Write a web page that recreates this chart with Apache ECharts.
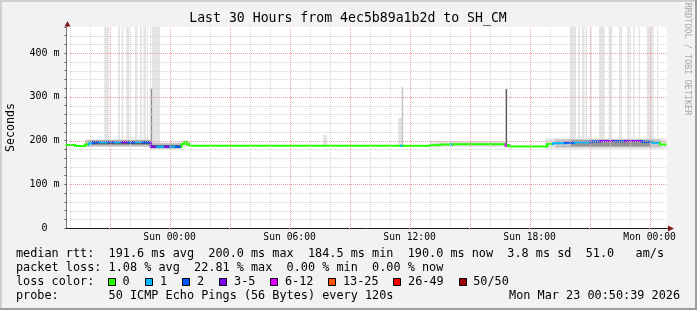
<!DOCTYPE html>
<html><head><meta charset="utf-8">
<script src="https://cdn.jsdelivr.net/npm/echarts@6/dist/echarts.min.js"></script>
<style>html,body{margin:0;padding:0;background:#f2f2f2}#c{width:697px;height:310px}</style>
</head><body><div id="c"></div>
<script>
// ---------- data (time in hours relative to Sun 00:00) ----------
const xMin = -5.156, xMax = 24.844;
const xLabelHours = [0, 6, 12, 18, 24];
const xLabels = ['Sun 00:00', 'Sun 06:00', 'Sun 12:00', 'Sun 18:00', 'Mon 00:00'];
const xMajorGrid = [-3, 0, 3, 6, 9, 12, 15, 18, 21, 24];
const xMinorGrid = [-5, -4, -2, -1, 1, 2, 4, 5, 7, 8, 10, 11, 13, 14, 16, 17, 19, 20, 22, 23];
const yMin = 0, yMax = 460;
const yLabelValues = [0, 100, 200, 300, 400];
const yLabels = ['0  ', '100 m', '200 m', '300 m', '400 m'];
const yMajorGrid = [100, 200, 300, 400];
const yMinorGrid = [20, 40, 60, 80, 120, 140, 160, 180, 220, 240, 260, 280, 320, 340, 360, 380, 420, 440];

// median rtt (ms) per segment, segment i spans medianBreaks[i]..medianBreaks[i+1]
const medianBreaks = [-5.156, -4.725, -4.225, -4.025, -3.825, -3.475, -3.075, -2.725, -2.375, -2.075,
  -1.675, -1.325, -0.95, -0.625, -0.225, 0.025, 0.325, 0.6, 0.725, 0.875, 1.025, 11.575, 11.675,
  13.025, 13.525, 14.075, 14.175, 16.8, 16.9, 17.025, 18.875, 19.175, 19.775, 20.275, 21.025,
  21.525, 22.275, 22.775, 23.625, 24.125, 24.525, 24.844];
const medianValues = [190, 187.5, 191, 194, 196, 196, 196.5, 196, 196.5, 196,
  196.5, 196, 186, 186, 186, 186, 185.5, 192, 197, 191, 188, 188,
  188, 189.5, 191, 191, 191.5, 188, 189, 186.5, 192, 194, 195, 196, 198,
  199, 198.5, 199, 197, 195, 191];
const medianLoss = [0, 0, 0, 1, 2, 1, 2, 1, 3, 2,
  1, 2, 3, 1, 3, 1, 2, 0, 0, 0, 0, 1,
  0, 0, 0, 1, 0, 4, 0, 0, 0, 1, 2, 1, 2,
  3, 2, 3, 2, 1, 0];

// smoke bands (ms), shade = density level 0 (sparse) .. 3 (dense)
const smokeStart = [0.6, 11.425, 13.025, 7.675, 18.775, -4.225, -0.95, 11.6, 14.275, 19.275, -0.95, 20.025, -4.025, -0.95, 16.8];
const smokeEnd   = [1.025, 11.6, 16.8, 7.875, 24.844, -0.95, 0.6, 11.675, 16.525, 24.525, -0.875, 24.025, -0.95, 0.6, 16.875];
const smokeLow   = [186, 186, 186, 186, 182, 186, 181, 186, 189, 184, 190, 187, 191, 183, 186];
const smokeHigh  = [199, 252, 199, 213, 205, 202, 195, 322, 194, 203, 320, 201, 199.5, 190, 318];
const smokeShade = [0, 0, 0, 0, 0, 1, 1, 1, 1, 1, 2, 2, 3, 3, 3];

// intervals whose slowest pings go past the top of the chart
const spikeStart = [-3.275, -2.575, -2.39, -2.175, -1.725, -1.475, -1.31, -1.125, -0.89,
  20.025, 20.425, 20.625, 20.8, 21.025, 21.475, 21.95, 22.475, 22.875, 23.175, 23.45, 23.85, 24.375];
const spikeEnd = [-3.025, -2.475, -2.31, -2.01, -1.61, -1.39, -1.175, -1.075, -0.475,
  20.325, 20.525, 20.75, 20.875, 21.1, 21.75, 22.125, 22.625, 23.0, 23.25, 23.525, 24.2, 24.425];
const spikeLow = 192;

const lossLabels = ['0', '1', '2', '3-5', '6-12', '13-25', '26-49', '50/50'];
const lossColors = ['#26ff00', '#00b8ff', '#0059ff', '#7e00ff', '#dd00ff', '#ff5500', '#ff0000', '#a10000'];

const titleText = 'Last 30 Hours from 4ec5b89a1b2d to SH_CM';
const legendLine1 = 'median rtt:  191.6 ms avg  200.0 ms max  184.5 ms min  190.0 ms now  3.8 ms sd  51.0   am/s';
const legendLine2 = 'packet loss: 1.08 % avg  22.81 % max  0.00 % min  0.00 % now';
const legendLine3 = 'loss color:';
const legendLine4 = 'probe:       50 ICMP Echo Pings (56 Bytes) every 120s';
const stampText = 'Mon Mar 23 00:50:39 2026';

// ---------- styles / layout ----------
const MONO = '"DejaVu Sans Mono", monospace';
const LEG = 11.83;                 // legend font size (px)
const COL = 7.12, COL0 = 16;       // legend character column width and origin
const boxCols = [12.9, 18.15, 23.35, 28.55, 35.7, 43.85, 53.0, 62.15];
const smokeColors = ['#e3e3e3', '#c4c4c4', '#939393', '#5e5e5e'];
const spikeColor = '#e4e4e4';
const gridColor = '#d4d4d4';
const mgridColor = '#ee9e9e';
const arrowColor = '#801f1f';

const chart = echarts.init(document.getElementById('c'), null, {renderer: 'canvas'});

function clipTo(params, r) {
  const cs = params.coordSys;
  return echarts.graphic.clipRectByRect(r, {x: cs.x, y: cs.y, width: cs.width, height: cs.height});
}
function bandItem(colorFn) {
  return function (params, api) {
    const p0 = api.coord([api.value(0), api.value(3)]);
    const p1 = api.coord([api.value(1), api.value(2)]);
    const r = clipTo(params, {x: p0[0], y: p0[1], width: Math.max(1, p1[0] - p0[0]), height: p1[1] - p0[1]});
    return r && {type: 'rect', shape: r, style: {fill: colorFn(api)}};
  };
}
// dotted grid lines drawn as 1x1 pixel dots so they stay crisp
function vLine(color) {
  return function (params, api) {
    const p = api.coord([api.value(0), yMin]);
    const q = api.coord([api.value(0), yMax]);
    const x = Math.round(p[0]);
    const kids = [];
    for (let y = Math.round(p[1]) - 2; y >= Math.round(q[1]); y -= 2) {
      kids.push({type: 'rect', shape: {x: x, y: y, width: 1, height: 1}, style: {fill: color}});
    }
    return {type: 'group', children: kids};
  };
}
function hLine(color) {
  return function (params, api) {
    const p = api.coord([xMin, api.value(1)]);
    const q = api.coord([xMax, api.value(1)]);
    const y = Math.round(p[1]);
    const kids = [];
    for (let x = Math.round(p[0]) + 2; x < Math.round(q[0]); x += 2) {
      kids.push({type: 'rect', shape: {x: x, y: y, width: 1, height: 1}, style: {fill: color}});
    }
    return {type: 'group', children: kids};
  };
}

const spikeData = spikeStart.map((s, i) => [s, spikeEnd[i], spikeLow, yMax]);
const smokeData = smokeStart.map((s, i) => [s, smokeEnd[i], smokeLow[i], smokeHigh[i], smokeShade[i]]);
const medianData = medianValues.map((v, i) => [medianBreaks[i], medianBreaks[i + 1], v, i > 0 ? medianValues[i - 1] : v, medianLoss[i]]);

const option = {
  backgroundColor: '#f2f2f2',
  animation: false,
  grid: {left: 66.5, width: 600, top: 26.9, bottom: 82, show: true, backgroundColor: '#ffffff', borderWidth: 0},
  xAxis: {
    type: 'value', min: xMin, max: xMax,
    axisLine: {show: true, onZero: false, lineStyle: {color: '#1f1f1f', width: 1}},
    axisTick: {show: true, customValues: xMajorGrid, length: 2, lineStyle: {color: mgridColor}},
    axisLabel: {customValues: xLabelHours, formatter: v => { const i = xLabelHours.indexOf(v); return i < 0 ? '' : xLabels[i]; },
      fontFamily: MONO, fontSize: 9.7, color: '#000', margin: 4},
    splitLine: {show: false}
  },
  yAxis: {
    type: 'value', min: yMin, max: yMax, interval: 20,
    axisLine: {show: true, onZero: false, lineStyle: {color: '#7a7a7a', width: 1}},
    axisTick: {show: true, length: 2, lineStyle: {color: '#555'}},
    axisLabel: {formatter: v => { const i = yLabelValues.indexOf(v); return i < 0 ? '' : yLabels[i]; },
      fontFamily: MONO, fontSize: 10, color: '#000', margin: 7},
    splitLine: {show: false}
  },
  series: [
    {type: 'custom', z: 1, silent: true, encode: {x: [0, 1], y: [2, 3]},
      renderItem: bandItem(() => spikeColor), data: spikeData},
    {type: 'custom', z: 2, silent: true, encode: {x: [0, 1], y: [2, 3]},
      renderItem: bandItem(api => smokeColors[api.value(4)]), data: smokeData},
    {type: 'custom', z: 3, silent: true, encode: {x: [0, 1], y: [2, 3]},
      renderItem: function (params, api) {
        const c = lossColors[api.value(4)];
        const a = api.coord([api.value(0), api.value(2)]);
        const b = api.coord([api.value(1), api.value(2)]);
        const pv = api.coord([api.value(0), api.value(3)]);
        const y0 = Math.min(a[1], pv[1]), y1 = Math.max(a[1], pv[1]);
        return {type: 'group', children: [
          {type: 'rect', shape: {x: a[0], y: a[1] - 1, width: Math.max(1, b[0] - a[0]), height: 2}, style: {fill: c}},
          {type: 'rect', shape: {x: a[0] - 1, y: y0 - 1, width: 2, height: y1 - y0 + 2}, style: {fill: c}}
        ]};
      }, data: medianData},
    {type: 'custom', z: 4, silent: true, encode: {x: 0, y: 1}, renderItem: vLine(gridColor), data: xMinorGrid.map(v => [v, yMin])},
    {type: 'custom', z: 4, silent: true, encode: {x: 0, y: 1}, renderItem: vLine(mgridColor), data: xMajorGrid.map(v => [v, yMin])},
    {type: 'custom', z: 4, silent: true, encode: {x: 0, y: 1}, renderItem: hLine(gridColor), data: yMinorGrid.map(v => [xMin, v])},
    {type: 'custom', z: 4, silent: true, encode: {x: 0, y: 1}, renderItem: hLine(mgridColor), data: yMajorGrid.map(v => [xMin, v])}
  ]
};
chart.setOption(option);

// ---------- decorations and text ----------
const g = [];
function txt(text, x, y, size, opts) {
  opts = opts || {};
  const el = {type: 'text', x: x, y: y, z: 10, silent: true,
    style: {text: text, font: size + 'px ' + MONO, fill: opts.fill || '#000',
      textAlign: opts.align || 'left', textVerticalAlign: 'middle'}};
  if (opts.rotation !== undefined) el.rotation = opts.rotation;
  g.push(el);
}
// frame shading
g.push({type: 'rect', z: 10, silent: true, shape: {x: 0, y: 0, width: 697, height: 2}, style: {fill: '#cfcfcf'}});
g.push({type: 'rect', z: 10, silent: true, shape: {x: 0, y: 0, width: 2, height: 310}, style: {fill: '#cfcfcf'}});
g.push({type: 'rect', z: 10, silent: true, shape: {x: 0, y: 308, width: 697, height: 2}, style: {fill: '#9e9e9e'}});
g.push({type: 'rect', z: 10, silent: true, shape: {x: 695, y: 0, width: 2, height: 310}, style: {fill: '#9e9e9e'}});

txt(titleText, 348, 18.5, 13.2, {align: 'center'});
txt('Seconds', 10.5, 127.5, 11.6, {align: 'center', rotation: Math.PI / 2});
txt('RRDTOOL / TOBI OETIKER', 687.5, 59, 8.5, {align: 'center', rotation: -Math.PI / 2, fill: '#a8a8a8'});

txt(legendLine1, COL0, 254, LEG);
txt(legendLine2, COL0, 268.3, LEG);
txt(legendLine3, COL0, 282.3, LEG);
lossLabels.forEach((t, i) => {
  const bx = COL0 + boxCols[i] * COL;
  g.push({type: 'rect', z: 10, silent: true, shape: {x: Math.round(bx) + 0.5, y: 278.5, width: 7, height: 7},
    style: {fill: lossColors[i], stroke: '#000', lineWidth: 1}});
  txt(t, COL0 + (boxCols[i] + 2.07) * COL, 282.3, LEG);
});
txt(legendLine4, COL0, 295.7, LEG);
txt(stampText, 680, 295.7, LEG, {align: 'right'});

// axis arrows
const pX = chart.convertToPixel({gridIndex: 0}, [xMax, yMin]);
const pY = chart.convertToPixel({gridIndex: 0}, [xMin, yMax]);
const ax = Math.round(pX[0]), ay = Math.round(pX[1]) + 0.5;
g.push({type: 'rect', z: 10, silent: true, shape: {x: pX[0], y: ay - 0.5, width: 2, height: 1}, style: {fill: '#1f1f1f'}});
g.push({type: 'polygon', z: 10, silent: true, shape: {points: [[ax + 1, ay - 3], [ax + 7, ay], [ax + 1, ay + 3]]}, style: {fill: arrowColor}});
const bx = Math.round(pY[0]) + 0.5, by = Math.round(pY[1]);
g.push({type: 'rect', z: 10, silent: true, shape: {x: bx - 0.5, y: by - 2, width: 1, height: 2}, style: {fill: '#7a7a7a'}});
g.push({type: 'polygon', z: 10, silent: true, shape: {points: [[bx - 3, by - 0.5], [bx, by - 6], [bx + 3, by - 0.5]]}, style: {fill: arrowColor}});

chart.setOption({graphic: {elements: g}});
</script>
</body></html>
